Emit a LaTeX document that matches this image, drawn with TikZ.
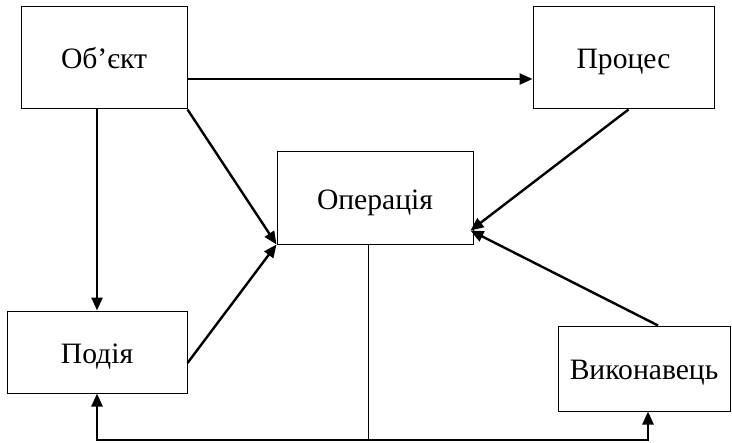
\documentclass[tikz,border=0pt]{standalone}
\usepackage{fontspec}
\setmainfont{Liberation Serif}
\usetikzlibrary{arrows.meta,calc}
\tikzset{
  box/.style ={draw=black, fill=white, line width=0.5pt,
               inner sep=0pt, align=center, text height=11pt, text depth=0pt,
               font=\fontsize{14.8}{17}\selectfont},
  arr/.style ={-{Triangle[length=6.5pt,width=5.5pt]}, line width=1.2pt},
  bus/.style ={line width=0.5pt},
}
\begin{document}
\begin{tikzpicture}[x=0.5pt,y=-0.5pt]
  \useasboundingbox (0,0) rectangle (732,443);
  % the boxes
  \node[box,minimum width=83pt,minimum height=51pt] (obj)   at (104,58)    {Об’єкт};
  \node[box,minimum width=90.5pt,minimum height=51pt] (proc) at (623.5,58) {Процес};
  \node[box,minimum width=98pt,minimum height=46pt] (oper)  at (375,198)   {Операція};
  \node[box,minimum width=90pt,minimum height=41pt] (event) at (97,352)    {Подія};
  \node[box,minimum width=86pt,minimum height=42.5pt] (exec) at (644,368.5) {Виконавець};
  % the links
  \coordinate (in) at ($(oper.south east)+(-3,-14)$);
  \draw[arr] ($(obj.east)+(0,21)$) -- ($(proc.west)+(0,21)$);
  \draw[arr] (event.north |- obj.south) -- (event.north);
  \draw[arr] (obj.south east) -- (oper.south west);
  \draw[arr] ($(event.east)+(0,11)$) -- (oper.south west);
  \draw[arr] ($(proc.south)+(5,0)$) -- (in);
  \draw[arr] ($(exec.north)+(14,0)$) -- (in);
  % the bus below
  \coordinate (bus) at (368,440);
  \draw[bus] (oper.south -| bus) -- (bus);
  \draw[arr] (bus) -| (event.south);
  \draw[arr] (bus) -| ($(exec.south)+(4,0)$);
\end{tikzpicture}
\end{document}
